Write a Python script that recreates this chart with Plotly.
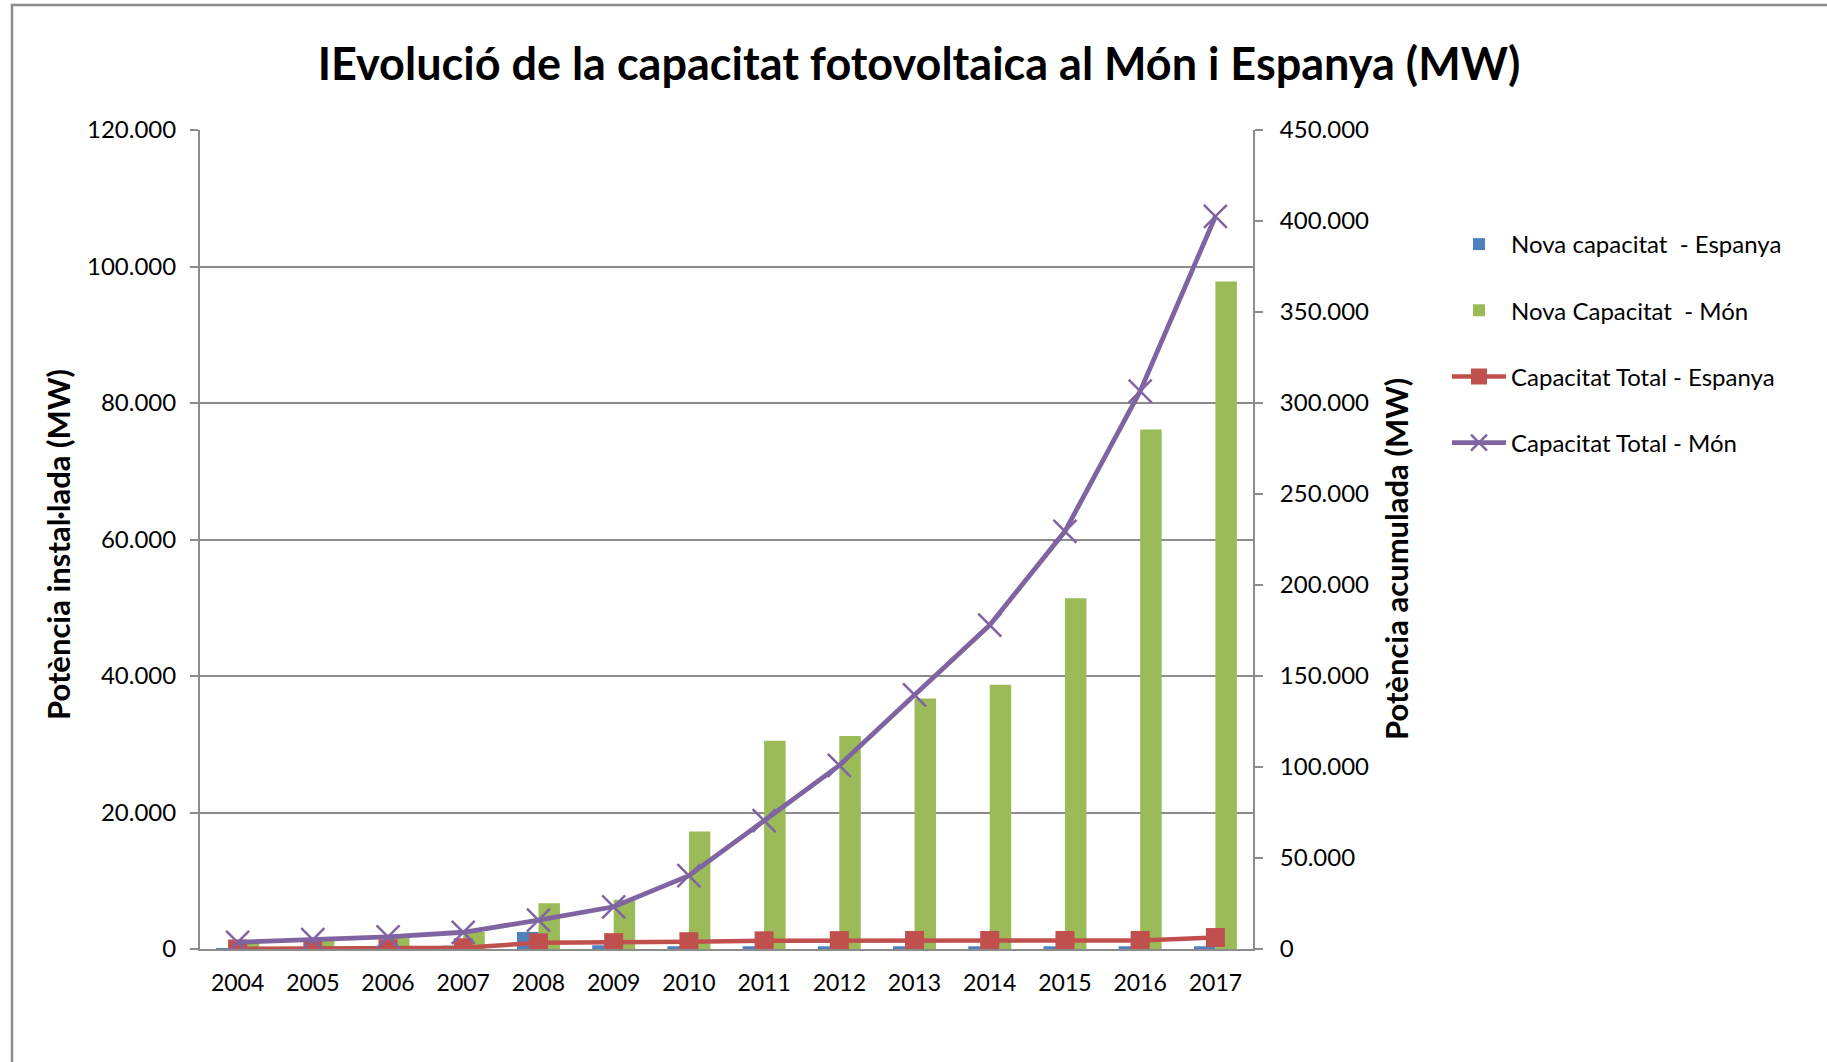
import plotly.graph_objects as go

years = ["2004", "2005", "2006", "2007", "2008", "2009", "2010",
         "2011", "2012", "2013", "2014", "2015", "2016", "2017"]
nova_espanya = [10, 20, 100, 500, 2500, 550, 400, 400, 400, 400, 400, 400, 400, 400]
nova_mon = [1000, 1400, 1600, 2500, 6700, 7200, 17200, 30500, 31200, 36700, 38700, 51400, 76100, 97800]
total_espanya = [20, 50, 150, 700, 3400, 3500, 4000, 4500, 4600, 4700, 4700, 4700, 4700, 6300]
total_mon = [3700, 5100, 6700, 9200, 15800, 23200, 40300, 70500, 100900, 139600, 178000, 229500, 306500, 402500]

left_ticks = [0, 20000, 40000, 60000, 80000, 100000, 120000]
left_labels = ["0", "20.000", "40.000", "60.000", "80.000", "100.000", "120.000"]
right_ticks = [0, 50000, 100000, 150000, 200000, 250000, 300000, 350000, 400000, 450000]
right_labels = ["0", "50.000", "100.000", "150.000", "200.000", "250.000",
                "300.000", "350.000", "400.000", "450.000"]

W, H = 1827, 1062
L, R, T, B = 200, 1253, 130, 949
FONT = "Lato"
GRAY = "#8c8c8c"

def px_x(x):
    return (x - L) / (R - L)

def px_y(y):
    return (B - y) / (B - T)

fig = go.Figure()
fig.add_trace(go.Bar(x=years, y=nova_espanya, name="Nova capacitat  - Espanya",
                     marker=dict(color="#4f81bd", line=dict(width=0)),
                     legendgroup="a", yaxis="y"))
fig.add_trace(go.Bar(x=years, y=nova_mon, name="Nova Capacitat  - Món",
                     marker=dict(color="#9bbb59", line=dict(width=0)),
                     legendgroup="b", yaxis="y"))
fig.add_trace(go.Scatter(x=years, y=total_espanya, name="Capacitat Total - Espanya",
                         mode="lines+markers", yaxis="y2", legendgroup="c",
                         line=dict(color="#c0504d", width=4.5),
                         marker=dict(symbol="square", size=19, color="#c0504d",
                                     line=dict(width=0))))
fig.add_trace(go.Scatter(x=years, y=total_mon, name="Capacitat Total - Món",
                         mode="lines+markers", yaxis="y2", legendgroup="d",
                         line=dict(color="#8064a2", width=4.8),
                         marker=dict(symbol="x-thin", size=23, color="#8064a2",
                                     line=dict(width=2.5, color="#8064a2"))))

fig.update_layout(
    width=W, height=H,
    margin=dict(l=L, r=W - R, t=T, b=H - B, pad=0),
    paper_bgcolor="white", plot_bgcolor="white",
    font=dict(family=FONT, color="black", size=24),
    barmode="group", bargap=1.5 / 3.5, bargroupgap=0,
    title=dict(text="<b>IEvolució de la capacitat fotovoltaica al Món i Espanya (MW)</b>",
               x=919 / W, xanchor="center", y=1 - 64 / H, yanchor="middle",
               xref="container", yref="container",
               font=dict(family=FONT, size=45, color="black")),
    xaxis=dict(type="category", range=[-0.5, 13.5], showgrid=False, showline=True,
               linecolor=GRAY, linewidth=2, ticks="", tickfont=dict(size=23),
               ticklabelstandoff=12, zeroline=False),
    yaxis=dict(range=[0, 120000], tickvals=left_ticks, ticktext=left_labels,
               showgrid=True, gridcolor=GRAY, gridwidth=2, showline=True,
               linecolor=GRAY, linewidth=2, ticks="outside", ticklen=8,
               tickcolor=GRAY, tickwidth=2, zeroline=False,
               tickfont=dict(size=24), ticklabelstandoff=9),
    yaxis2=dict(range=[0, 450000], tickvals=right_ticks, ticktext=right_labels,
                overlaying="y", side="right", showgrid=False, showline=True,
                linecolor=GRAY, linewidth=2, ticks="outside", ticklen=8,
                tickcolor=GRAY, tickwidth=2, zeroline=False,
                tickfont=dict(size=24), ticklabelstandoff=12),
    legend=dict(x=px_x(1447), y=px_y(222), xanchor="left", yanchor="top",
                font=dict(size=24), tracegroupgap=32, itemwidth=54,
                bgcolor="rgba(0,0,0,0)"),
    showlegend=True,
)

fig.add_annotation(text="<b>Potència instal·lada (MW)</b>", textangle=-90,
                   x=px_x(58), y=px_y(545), xref="paper", yref="paper",
                   xanchor="center", yanchor="middle",
                   showarrow=False, font=dict(size=31, family=FONT))
fig.add_annotation(text="<b>Potència acumulada (MW)</b>", textangle=-90,
                   x=px_x(1396), y=px_y(559), xref="paper", yref="paper",
                   xanchor="center", yanchor="middle",
                   showarrow=False, font=dict(size=31, family=FONT))

# chart border (left and top edges of the chart area)
fig.add_shape(type="path", xref="paper", yref="paper",
              path=f"M {px_x(12)} {px_y(1070)} L {px_x(12)} {px_y(5)} L {px_x(1830)} {px_y(5)}",
              line=dict(color=GRAY, width=2.5))

fig.write_html("out.html", config={"displayModeBar": False},
               post_script="document.body.style.margin='0';")
